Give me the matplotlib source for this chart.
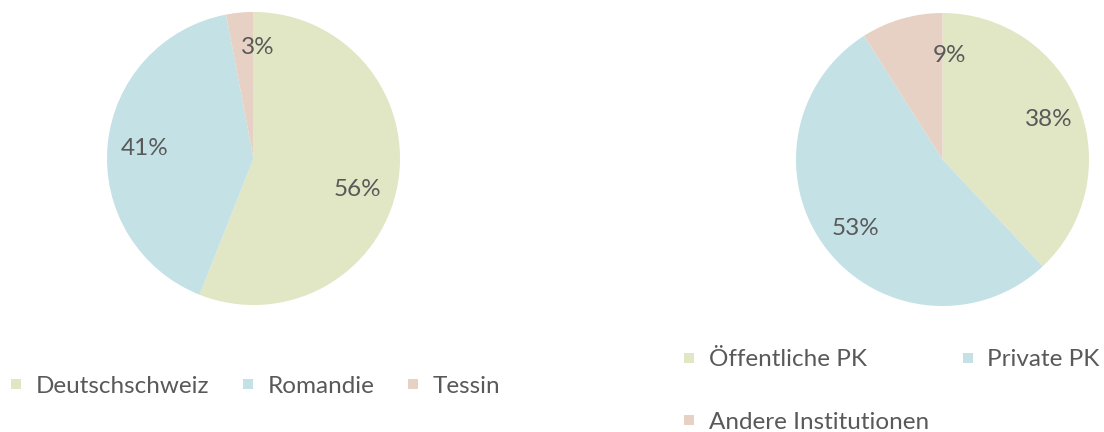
import matplotlib.pyplot as plt
from matplotlib.lines import Line2D

plt.rcParams['font.family'] = ['Lato', 'DejaVu Sans']

# Daten
regionen = ['Deutschschweiz', 'Romandie', 'Tessin']
anteile_region = [56, 41, 3]
institutionen = ['Öffentliche PK', 'Private PK', 'Andere Institutionen']
anteile_inst = [38, 53, 9]

farben = ['#e1e6c4', '#c4e1e6', '#e6d1c4']
textfarbe = '#595959'
W, H = 1104, 432
FS = 17.5

fig = plt.figure(figsize=(W / 100, H / 100), dpi=100)


def pie_axes(x0, y0, x1, y1):
    return fig.add_axes([x0 / W, 1 - y1 / H, (x1 - x0) / W, (y1 - y0) / H])


def draw_pie(ax, werte, versatz):
    _, _, texte = ax.pie(werte, colors=farben, startangle=90, counterclock=False,
                         autopct='%1.0f%%', pctdistance=0.75,
                         wedgeprops={'linewidth': 0},
                         textprops={'color': textfarbe, 'fontsize': FS})
    # kleine Korrekturen wie bei Excel-Beschriftungen
    for t, (dx, dy) in zip(texte, versatz):
        x, y = t.get_position()
        t.set_position((x + dx, y + dy))
    ax.set_xlim(-1, 1)
    ax.set_ylim(-1, 1)
    ax.set_aspect('equal')
    ax.axis('off')


ax1 = pie_axes(107, 12, 400, 305)
draw_pie(ax1, anteile_region, [(-0.03, -0.07), (0, 0), (0.1, 0.01)])
ax2 = pie_axes(796, 13, 1089, 306)
draw_pie(ax2, anteile_inst, [(0.03, 0), (0, -0.01), (0.26, -0.01)])


def handles(n):
    return [Line2D([], [], marker='s', linestyle='none', markersize=7.5,
                   markerfacecolor=c, markeredgewidth=0) for c in farben[:n]]


fig.legend(handles(3), regionen, loc='center left',
           bbox_to_anchor=(-13 / W, 1 - 386 / H), ncol=3, frameon=False,
           labelcolor=textfarbe, handlelength=0.6,
           handletextpad=0.5, columnspacing=1.3, prop={'size': FS})

# Reihenfolge fuer zeilenweise Anordnung in zwei Spalten
h = handles(3)
fig.legend([h[0], h[2], h[1]], [institutionen[0], institutionen[2], institutionen[1]],
           loc='center left', bbox_to_anchor=(660 / W, 1 - 391 / H), ncol=2,
           frameon=False, labelcolor=textfarbe, handlelength=0.6,
           handletextpad=0.5, columnspacing=1.3, labelspacing=1.7,
           prop={'size': FS})

fig.savefig('out.png', dpi=100)
